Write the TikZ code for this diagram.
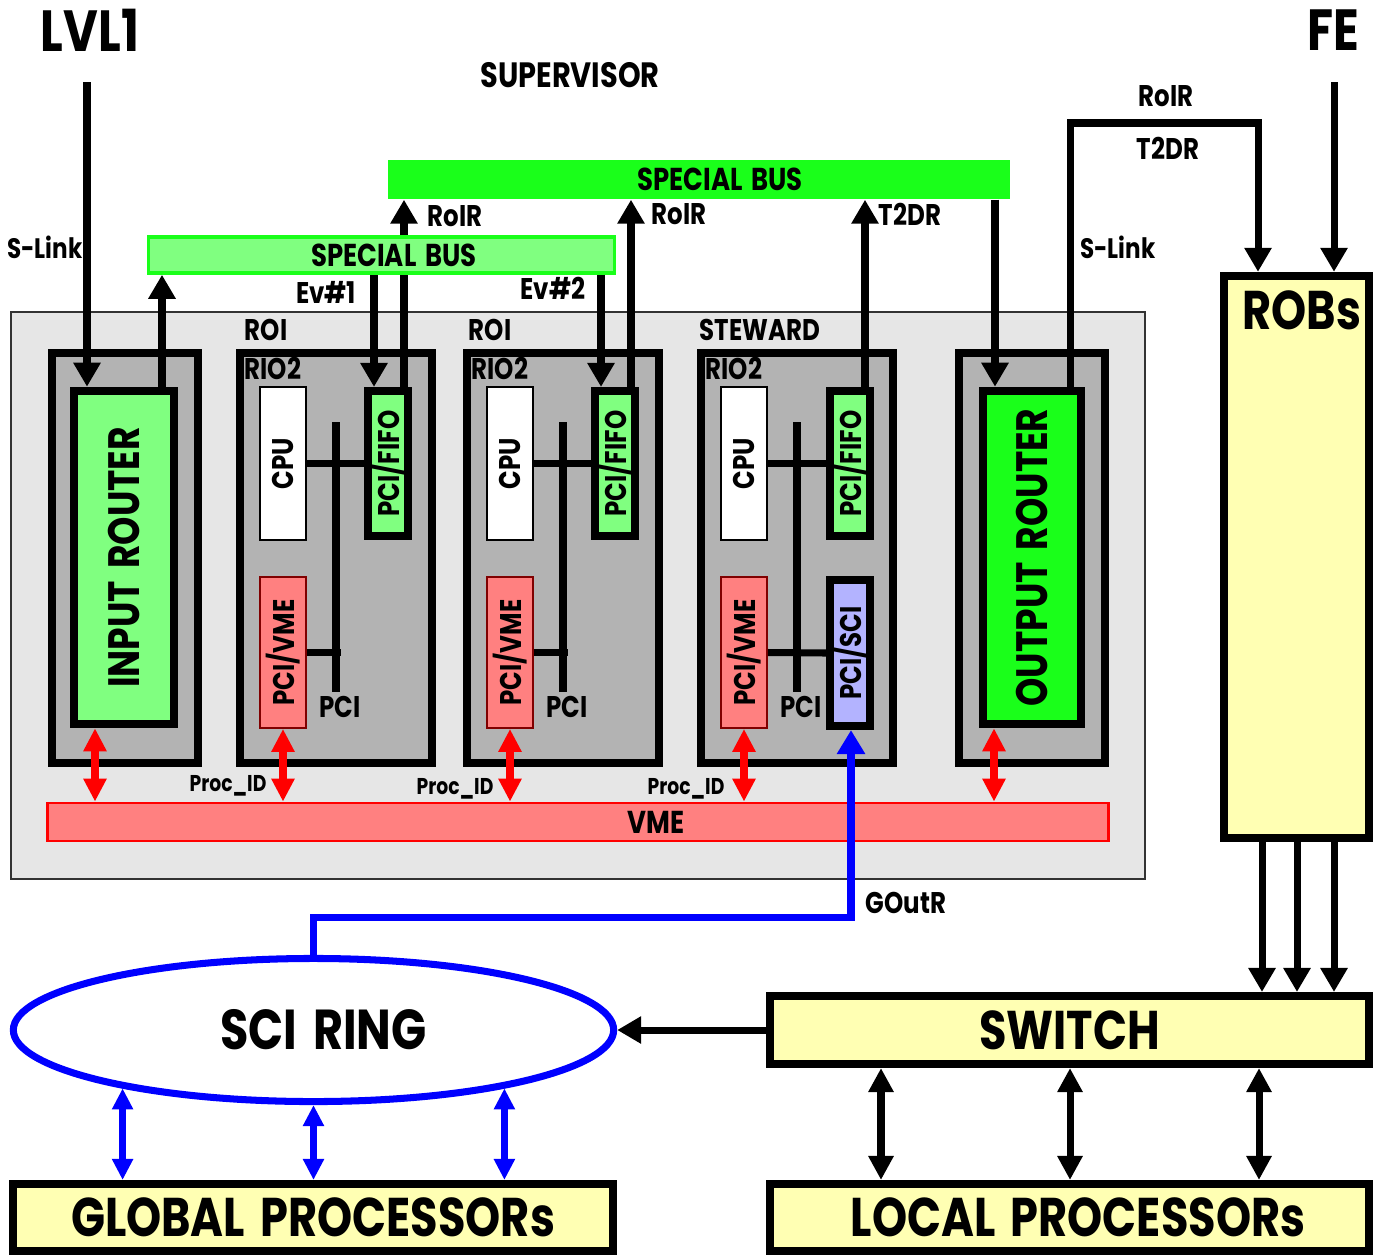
\documentclass[tikz,border=0pt]{standalone}
\usepackage{fontspec}
\setmainfont{Poppins}[FakeStretch=0.82, WordSpace=1.6]
\usepackage{graphicx}
\usepackage{tikz}
\usetikzlibrary{shapes.geometric, arrows.meta, positioning}

\definecolor{crategray}{HTML}{E6E6E6}
\definecolor{boardgray}{HTML}{B3B3B3}
\definecolor{busgreen}{HTML}{80FF80}
\definecolor{routergreen}{HTML}{1AFF1A}
\definecolor{vmered}{HTML}{FF8080}
\definecolor{sciblue}{HTML}{B3B3FF}
\definecolor{robyellow}{HTML}{FFFFB3}

\tikzstyle{crate} = [rectangle, draw=black!80, line width=0.5pt, fill=crategray, inner sep=0pt]
\tikzstyle{board} = [rectangle, draw=black, line width=2.4pt, fill=boardgray, inner sep=0pt]
\tikzstyle{router} = [rectangle, draw=black, line width=2.4pt, inner sep=0pt,
  font=\bfseries\fontsize{12.5}{14}\selectfont]
\tikzstyle{card} = [rectangle, inner sep=0pt, font=\bfseries\fontsize{8.5}{10}\selectfont]
\tikzstyle{fifo} = [card, draw=black, line width=2.3pt]
\tikzstyle{bus} = [rectangle, inner sep=0pt, font=\bfseries\fontsize{9}{10}\selectfont]
\tikzstyle{yellowbox} = [rectangle, draw=black, line width=2.3pt, fill=robyellow, inner sep=0pt,
  font=\bfseries\fontsize{15.5}{17}\selectfont]
\tikzstyle{pcibar} = [rectangle, fill=black, minimum width=0.08cm, minimum height=2.70cm, inner sep=0pt]
\tikzstyle{lbl} = [inner sep=0pt, font=\bfseries\fontsize{8.5}{10}\selectfont]
\tikzstyle{tinylbl} = [inner sep=0pt, font=\bfseries\fontsize{6.5}{8}\selectfont]
\tikzstyle{midtitle} = [inner sep=0pt, font=\bfseries\fontsize{10}{12}\selectfont]
\tikzstyle{bigtitle} = [inner sep=0pt, font=\bfseries\fontsize{16.5}{18}\selectfont]
\tikzstyle{wire} = [line width=2pt]
\tikzstyle{arrow} = [-{Triangle[length=0.24cm, width=0.26cm]}, line width=2pt]
\tikzstyle{dblarrow} = [{Triangle[length=0.24cm, width=0.24cm]}-{Triangle[length=0.24cm, width=0.24cm]}, line width=2pt]
\tikzstyle{vmearrow} = [{Triangle[length=0.23cm, width=0.22cm]}-{Triangle[length=0.23cm, width=0.22cm]}, line width=2.2pt, red]
\tikzstyle{sciarrow} = [{Triangle[length=0.21cm, width=0.2cm]}-{Triangle[length=0.21cm, width=0.2cm]}, line width=2pt, blue]
\tikzstyle{goutarrow} = [-{Triangle[length=0.24cm, width=0.27cm]}, line width=2pt, blue]

\begin{document}
\begin{tikzpicture}[x=0.01cm, y=-0.01cm]
  \useasboundingbox (0,0) rectangle (1385,1257);

  % Titles
  \node[bigtitle] (lvl1) at (90,30) {LVL1};
  \node[bigtitle] (fe) at (1333,30) {FE};
  \node[midtitle] (supervisor) at (570,75) {SUPERVISOR};
  \coordinate (lvl1in) at (87,82);
  \coordinate (fein) at (1334,82);

  % VME crate
  \node[crate, minimum width=11.34cm, minimum height=5.67cm] (vmecrate) at (578,595.5) {};
  \node[lbl] (roiA) at (266,330) {ROI};
  \node[lbl] (roiB) at (490,330) {ROI};
  \node[lbl] (steward) at (760,330) {STEWARD};

  % Special buses
  \node[bus, fill=routergreen, minimum width=6.22cm, minimum height=0.39cm] (sbus1) at (699,179.5) {\hspace*{0.42cm}SPECIAL BUS};
  \node[bus, fill=busgreen, draw=routergreen, line width=1pt, minimum width=4.66cm, minimum height=0.36cm] (sbus2) at (381.5,255) {\hspace*{0.25cm}SPECIAL BUS};

  % Input router
  \node[board, minimum width=1.46cm, minimum height=4.10cm] (inframe) at (125,558) {};
  \node[router, fill=busgreen, minimum width=1.00cm, minimum height=3.33cm] (inrouter) at (124,557.5) {\rotatebox{90}{INPUT ROUTER}};

  % RIO2 board A (ROI)
  \node[board, minimum width=1.92cm, minimum height=4.10cm] (rioA) at (336,558) {};
  \node[lbl] (rioAname) at (273,368) {RIO2};
  \node[pcibar] (pciA) at (336,557) {};
  \node[card, fill=white, draw=black, line width=0.6pt, minimum width=0.46cm, minimum height=1.53cm] (cpuA) at (283,463.5) {\rotatebox{90}{CPU}};
  \node[fifo, fill=busgreen, minimum width=0.40cm, minimum height=1.45cm] (fifoA) at (388,463.5) {\rotatebox{90}{PCI/FIFO}};
  \node[card, fill=vmered, draw=red!50!black, line width=0.5pt, minimum width=0.46cm, minimum height=1.51cm] (vmeA) at (283,652.5) {\rotatebox{90}{PCI/VME}};
  \node[lbl] (pciAname) at (340,707) {PCI};
  \draw[wire] (cpuA.east) -- (fifoA.west);
  \draw[wire] (vmeA.east) -- (vmeA.east -| pciA.east);

  % RIO2 board B (ROI)
  \node[board, minimum width=1.92cm, minimum height=4.10cm] (rioB) at (563,558) {};
  \node[lbl] (rioBname) at (500,368) {RIO2};
  \node[pcibar] (pciB) at (563,557) {};
  \node[card, fill=white, draw=black, line width=0.6pt, minimum width=0.46cm, minimum height=1.53cm] (cpuB) at (510,463.5) {\rotatebox{90}{CPU}};
  \node[fifo, fill=busgreen, minimum width=0.40cm, minimum height=1.45cm] (fifoB) at (615,463.5) {\rotatebox{90}{PCI/FIFO}};
  \node[card, fill=vmered, draw=red!50!black, line width=0.5pt, minimum width=0.46cm, minimum height=1.51cm] (vmeB) at (510,652.5) {\rotatebox{90}{PCI/VME}};
  \node[lbl] (pciBname) at (567,707) {PCI};
  \draw[wire] (cpuB.east) -- (fifoB.west);
  \draw[wire] (vmeB.east) -- (vmeB.east -| pciB.east);

  % RIO2 board S (steward)
  \node[board, minimum width=1.92cm, minimum height=4.10cm] (rioS) at (797,558) {};
  \node[lbl] (rioSname) at (734,368) {RIO2};
  \node[pcibar] (pciS) at (797,557) {};
  \node[card, fill=white, draw=black, line width=0.6pt, minimum width=0.46cm, minimum height=1.53cm] (cpuS) at (744,463.5) {\rotatebox{90}{CPU}};
  \node[fifo, fill=busgreen, minimum width=0.40cm, minimum height=1.45cm] (fifoS) at (850,463.5) {\rotatebox{90}{PCI/FIFO}};
  \node[card, fill=vmered, draw=red!50!black, line width=0.5pt, minimum width=0.46cm, minimum height=1.51cm] (vmeS) at (744,652.5) {\rotatebox{90}{PCI/VME}};
  \node[fifo, fill=sciblue, minimum width=0.40cm, minimum height=1.46cm] (sciS) at (850,653) {\rotatebox{90}{PCI/SCI}};
  \node[lbl] (pciSname) at (801,707) {PCI};
  \draw[wire] (cpuS.east) -- (fifoS.west);
  \draw[wire] (vmeS.east) -- (sciS.west);

  % Output router
  \node[board, minimum width=1.46cm, minimum height=4.10cm] (outframe) at (1032,558) {};
  \node[router, fill=routergreen, minimum width=0.98cm, minimum height=3.33cm] (outrouter) at (1032,557.5) {\rotatebox{90}{OUTPUT ROUTER}};

  % VME bus
  \node[bus, fill=vmered, draw=red, line width=0.8pt, minimum width=10.60cm, minimum height=0.38cm] (vme) at (578,822) {\hspace*{1.56cm}VME};
  \node[tinylbl] (procA) at (228,786) {Proc\_ID};
  \node[tinylbl] (procB) at (455,789) {Proc\_ID};
  \node[tinylbl] (procS) at (686,789) {Proc\_ID};

  % ROBs, switch and processors
  \node[yellowbox, minimum width=1.45cm, minimum height=5.62cm] (robs) at (1296.5,557) {};
  \node[bigtitle, font=\bfseries\fontsize{15.5}{17}\selectfont] (robsname) at (1302,310) {ROBs};
  \node[yellowbox, minimum width=5.99cm, minimum height=0.68cm] (switch) at (1069.5,1030) {SWITCH};
  \node[yellowbox, minimum width=5.99cm, minimum height=0.67cm] (localp) at (1069.5,1217.5) {\hspace*{0.17cm}LOCAL PROCESSORs};
  \node[yellowbox, minimum width=6.00cm, minimum height=0.67cm] (globalp) at (313,1217.5) {GLOBAL PROCESSORs};
  \node[ellipse, draw=blue, line width=2pt, fill=white, inner sep=0pt, minimum width=6.00cm, minimum height=1.43cm,
    font=\bfseries\fontsize{16}{18}\selectfont] (ring) at (313.5,1030) {\hspace*{0.2cm}SCI RING};

  % Arrows
  \node[lbl, font=\bfseries\fontsize{8}{10}\selectfont] (slinkin) at (45,247) {S-Link};
  \draw[arrow] (lvl1in) -- (lvl1in |- inrouter.north);
  \draw[arrow] (162,0 |- inrouter.north) -- (162,0 |- sbus2.south);

  \node[lbl] (evA) at (326,292) {Ev\#1};
  \node[lbl] (roirA) at (455,216) {RoIR};
  \draw[arrow] (374,0 |- sbus2.south) -- (374,0 |- fifoA.north);
  \draw[wire] (404,0 |- fifoA.north) -- (404,0 |- sbus2.south);
  \draw[arrow] (404,0 |- sbus2.north) -- (404,0 |- sbus1.south);

  \node[lbl] (evB) at (553,288) {Ev\#2};
  \node[lbl] (roirB) at (679,214) {RoIR};
  \draw[arrow] (601,0 |- sbus2.south) -- (601,0 |- fifoB.north);
  \draw[arrow] (631,0 |- fifoB.north) -- (631,0 |- sbus1.south);

  \node[lbl] (t2drS) at (910,214) {T2DR};
  \draw[arrow] (865,0 |- fifoS.north) -- (865,0 |- sbus1.south);
  \draw[arrow] (995,0 |- sbus1.south) -- (995,0 |- outrouter.north);

  \node[lbl] (roirout) at (1166,96) {RoIR};
  \node[lbl] (t2drout) at (1168,148) {T2DR};
  \node[lbl, font=\bfseries\fontsize{8}{10}\selectfont] (slinkout) at (1118,247) {S-Link};
  \coordinate (slbend) at (1258,123);
  \draw[arrow] (1070,0 |- outrouter.north) |- (slbend) -- (slbend |- robs.north);
  \draw[arrow] (fein) -- (fein |- robs.north);

  \draw[vmearrow] (95,0 |- inrouter.south) -- (95,0 |- vme.north);
  \draw[vmearrow] (vmeA.south) -- (vmeA.south |- vme.north);
  \draw[vmearrow] (vmeB.south) -- (vmeB.south |- vme.north);
  \draw[vmearrow] (vmeS.south) -- (vmeS.south |- vme.north);
  \draw[vmearrow] (994,0 |- outrouter.south) -- (994,0 |- vme.north);

  \node[lbl] (goutr) at (906,903) {GOutR};
  \coordinate (goutbend) at (851,917);
  \draw[goutarrow] (ring.north) |- (goutbend) -- (goutbend |- sciS.south);

  \foreach \x in {1262,1297,1334}
    \draw[arrow] (\x,0 |- robs.south) -- (\x,0 |- switch.north);
  \foreach \x in {881,1070,1259}
    \draw[dblarrow] (\x,0 |- switch.south) -- (\x,0 |- localp.north);
  \draw[arrow] (switch.west) -- (ring.east);

  \draw[sciarrow] (ring.197.6) -- (ring.197.6 |- globalp.north);
  \draw[sciarrow] (ring.south) -- (ring.south |- globalp.north);
  \draw[sciarrow] (ring.-17.6) -- (ring.-17.6 |- globalp.north);

\end{tikzpicture}
\end{document}
